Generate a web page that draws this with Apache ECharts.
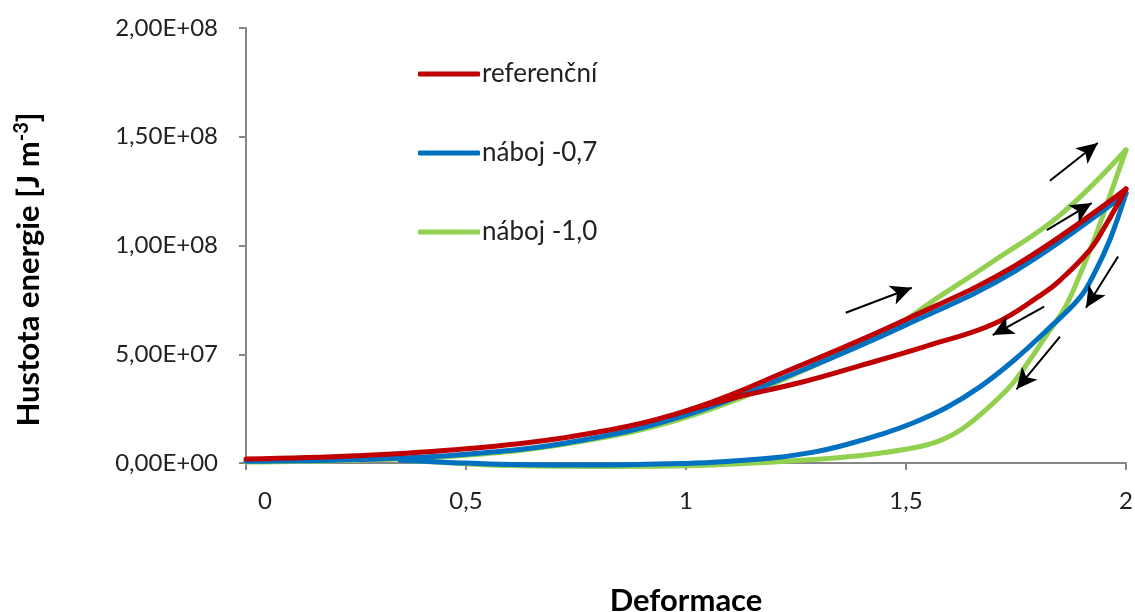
<!DOCTYPE html>
<html>
<head>
<meta charset="utf-8">
<script src="https://cdn.jsdelivr.net/npm/echarts@6/dist/echarts.min.js"></script>
<style>
html,body{margin:0;padding:0;background:#fff;}
#c{width:1135px;height:612px;}
</style>
</head>
<body>
<div id="c"></div>
<script>
// ---- data ----
const seriesNames = ['referenční', 'náboj -0,7', 'náboj -1,0'];
const xTickLabels = ['0', '0,5', '1', '1,5', '2'];
const yTickLabels = ['0,00E+00', '5,00E+07', '1,00E+08', '1,50E+08', '2,00E+08'];

// referenční
const refLoadX   = [0, 0.25, 0.5, 0.75, 1.0, 1.25, 1.5, 1.75, 2.0];
const refLoadY   = [1.8e6, 3.3e6, 6.5e6, 1.25e7, 2.4e7, 4.4e7, 6.6e7, 9.1e7, 1.26e8];
const refUnloadX = [2.0, 1.95, 1.918, 1.85, 1.812, 1.7, 1.55, 1.4, 1.26, 1.11, 1.0];
const refUnloadY = [1.26e8, 1.08e8, 9.8e7, 8.4e7, 7.8e7, 6.4e7, 5.4e7, 4.5e7, 3.7e7, 3.0e7, 2.4e7];

// náboj -0,7
const b07LoadX   = [0, 0.25, 0.5, 0.75, 1.0, 1.25, 1.5, 1.75, 2.0];
const b07LoadY   = [0.8e6, 1.6e6, 4.0e6, 1.0e7, 2.2e7, 4.15e7, 6.35e7, 8.85e7, 1.24e8];
const b07UnloadX = [2.0, 1.964, 1.93, 1.895, 1.82, 1.744, 1.668, 1.592, 1.517, 1.441, 1.365, 1.29, 1.2, 1.1, 1.0, 0.8, 0.6, 0.45, 0.35];
const b07UnloadY = [1.24e8, 1.03e8, 8.8e7, 7.6e7, 6.1e7, 4.7e7, 3.5e7, 2.55e7, 1.85e7, 1.3e7, 8.5e6, 5.0e6, 2.4e6, 0.8e6, -0.2e6, -0.9e6, -0.7e6, 0.4e6, 1.3e6];

// náboj -1,0
const b10LoadX   = [0, 0.25, 0.5, 0.75, 1.0, 1.25, 1.5, 1.55, 1.7, 1.85, 2.0];
const b10LoadY   = [0.5e6, 1.3e6, 3.6e6, 9.5e6, 2.1e7, 4.1e7, 6.6e7, 7.3e7, 9.3e7, 1.14e8, 1.44e8];
const b10UnloadX = [2.0, 1.96, 1.93, 1.89, 1.86, 1.82, 1.78, 1.74, 1.69, 1.63, 1.58, 1.53, 1.44, 1.35, 1.2, 1.0, 0.8, 0.6, 0.45, 0.35];
const b10UnloadY = [1.44e8, 1.21e8, 1.04e8, 8.4e7, 7.1e7, 5.9e7, 4.7e7, 3.6e7, 2.6e7, 1.6e7, 1.05e7, 7.5e6, 4.5e6, 2.5e6, 0.5e6, -1.3e6, -1.6e6, -1.2e6, 0.2e6, 1.3e6];

// arrow annotations (data coordinates: [x1, y1, x2, y2])
const arrows = [
  [1.363, 6.91e7, 1.513, 8.06e7],
  [1.827, 1.298e8, 1.936, 1.471e8],
  [1.820, 1.071e8, 1.922, 1.195e8],
  [1.982, 9.49e7, 1.909, 7.14e7],
  [1.814, 7.19e7, 1.697, 5.88e7],
  [1.850, 5.81e7, 1.751, 3.39e7]
];

const colors = ['#C00000', '#0070C0', '#92D050'];

function pairs(xs, ys) { return xs.map((x, i) => [x, ys[i]]); }

function lineSeries(name, color, xs, ys, extra) {
  return Object.assign({
    name: name,
    type: 'line',
    data: pairs(xs, ys),
    smooth: 0.4,
    showSymbol: false,
    symbol: 'none',
    clip: false,
    lineStyle: { color: color, width: 5, cap: 'round', join: 'round' },
    itemStyle: { color: color },
    emphasis: { disabled: true },
    animation: false
  }, extra || {});
}

const FONT = 'Lato';

const chart = echarts.init(document.getElementById('c'));
chart.setOption({
  animation: false,
  backgroundColor: '#ffffff',
  grid: { left: 246, right: 9, top: 28, bottom: 149, containLabel: false, outerBoundsMode: 'none' },
  legend: {
    data: seriesNames,
    orient: 'vertical',
    left: 413,
    top: 56,
    itemWidth: 62,
    itemHeight: 5,
    itemGap: 53,
    icon: 'roundRect',
    textStyle: { fontFamily: FONT, fontSize: 26, color: '#222', padding: [0, 0, 0, -3] },
    selectedMode: false
  },
  xAxis: {
    type: 'value',
    min: 0, max: 2, interval: 0.5,
    name: 'Deformace',
    nameLocation: 'middle',
    nameGap: 122,
    nameTextStyle: { fontFamily: FONT, fontSize: 31, fontWeight: 'bold', color: '#000' },
    axisLine: { show: true, onZero: false, lineStyle: { color: '#868686', width: 2 } },
    axisTick: { show: true, inside: false, length: 7, lineStyle: { color: '#868686', width: 2 } },
    splitLine: { show: false },
    axisLabel: {
      margin: 26,
      fontFamily: FONT, fontSize: 24, color: '#222',
      formatter: function (v) {
        const i = Math.round(v / 0.5);
        return i === 0 ? '{first|' + xTickLabels[0] + '}' : xTickLabels[i];
      },
      rich: { first: { fontFamily: FONT, fontSize: 24, color: '#222', padding: [0, 0, 0, 38] } }
    }
  },
  yAxis: {
    type: 'value',
    min: 0, max: 2e8, interval: 5e7,
    name: 'Hustota energie [J m{sup|-3}]',
    nameLocation: 'middle',
    nameGap: 200,
    nameTextStyle: {
      fontFamily: FONT, fontSize: 31, fontWeight: 'bold', color: '#000',
      padding: [0, 48, 0, 0],
      rich: { sup: { fontFamily: FONT, fontSize: 20, fontWeight: 'bold', color: '#000', padding: [0, 0, 14, 0] } }
    },
    axisLine: { show: true, lineStyle: { color: '#868686', width: 2 } },
    axisTick: { show: true, inside: false, length: 7, lineStyle: { color: '#868686', width: 2 } },
    splitLine: { show: false },
    axisLabel: {
      margin: 28,
      fontFamily: FONT, fontSize: 24, color: '#222',
      formatter: function (v) { return yTickLabels[Math.round(v / 5e7)]; }
    }
  },
  series: [
    lineSeries(seriesNames[2], colors[2], b10LoadX, b10LoadY),
    lineSeries(seriesNames[2], colors[2], b10UnloadX, b10UnloadY),
    lineSeries(seriesNames[1], colors[1], b07LoadX, b07LoadY),
    lineSeries(seriesNames[1], colors[1], b07UnloadX, b07UnloadY),
    lineSeries(seriesNames[0], colors[0], refLoadX, refLoadY),
    lineSeries(seriesNames[0], colors[0], refUnloadX, refUnloadY, {
      markLine: {
        silent: true,
        animation: false,
        symbol: ['none', 'arrow'],
        symbolSize: [15, 21],
        label: { show: false },
        lineStyle: { color: '#000', width: 2, type: 'solid' },
        emphasis: { disabled: true },
        data: arrows.map(a => [{ coord: [a[0], a[1]] }, { coord: [a[2], a[3]] }])
      }
    })
  ]
});
</script>
</body>
</html>
